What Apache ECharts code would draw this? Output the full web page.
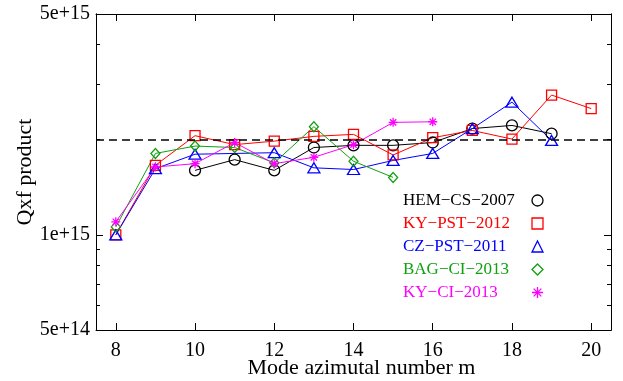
<!DOCTYPE html>
<html>
<head>
<meta charset="utf-8">
<script src="https://cdn.jsdelivr.net/npm/echarts@6/dist/echarts.min.js"></script>
<style>
  html, body { margin: 0; padding: 0; background: #fff; }
  #chart { width: 623px; height: 381px; }
</style>
</head>
<body>
<div id="chart"></div>
<script>
// azimutal mode numbers (x)
const mValues = [8, 9, 10, 11, 12, 13, 14, 15, 16, 17, 18, 19, 20];

// Qxf product per data set, null = no point
const hemCs2007 = [null, null, 1.60e15, 1.73e15, 1.60e15, 1.89e15, 1.92e15, 1.92e15, 1.96e15, 2.17e15, 2.22e15, 2.09e15, null];
const kyPst2012 = [1.00e15, 1.66e15, 2.06e15, 1.93e15, 1.98e15, 2.05e15, 2.08e15, 1.79e15, 2.03e15, 2.14e15, 2.01e15, 2.77e15, 2.51e15];
const czPst2011 = [1.00e15, 1.62e15, 1.80e15, null, 1.82e15, 1.63e15, 1.61e15, 1.72e15, 1.81e15, 2.17e15, 2.63e15, 1.99e15, null];
const bagCi2013 = [1.06e15, 1.81e15, 1.91e15, 1.89e15, 1.69e15, 2.20e15, 1.71e15, 1.52e15, null, null, null, null, null];
const kyCi2013  = [1.10e15, 1.64e15, 1.68e15, 1.96e15, 1.68e15, 1.76e15, 1.93e15, 2.27e15, 2.28e15, null, null, null, null];

// dashed reference level
const refQxf = 2e15;

// axis ticks
const xTicks = [8, 10, 12, 14, 16, 18, 20];
const yTickValues = [5e14, 1e15, 5e15];
const yTickLabels = ['5e+14', '1e+15', '5e+15'];
const yMinorTicks = [6e14, 7e14, 8e14, 9e14, 2e15, 3e15, 4e15];

const yMin = 5e14, yMax = 5e15;
const lMin = Math.log10(yMin), lMax = Math.log10(yMax);

const FONT = '"Liberation Serif", "DejaVu Serif", serif';
const asterisk = 'path://M0,5L10,5M5,0L5,10M1.5,1.5L8.5,8.5M8.5,1.5L1.5,8.5';

function pairs(vals) {
  const out = [];
  vals.forEach((v, i) => { if (v !== null) out.push([mValues[i], v]); });
  return out;
}

function makeSeries(name, vals, color, symbol, size) {
  return {
    name: name,
    type: 'line',
    xAxisIndex: 0,
    yAxisIndex: 0,
    data: pairs(vals),
    symbol: symbol,
    symbolSize: size,
    showAllSymbol: true,
    itemStyle: { color: 'rgba(0,0,0,0)', borderColor: color, borderWidth: 1.3 },
    lineStyle: { color: color, width: 1 },
    emphasis: { disabled: true },
    z: 3
  };
}

// tick-only axes laid on the log range
function tickAxis(pos, values, len, labels) {
  return {
    type: 'value',
    position: pos,
    min: lMin,
    max: lMax,
    axisLine: { show: true, lineStyle: { color: '#000', width: 1 } },
    axisTick: { show: true, inside: true, length: len, customValues: values.map(Math.log10), lineStyle: { color: '#000' } },
    axisLabel: labels ? {
      show: true,
      customValues: yTickValues.map(Math.log10),
      margin: 6,
      fontFamily: FONT,
      fontSize: 20,
      color: '#000',
      formatter: function (v) {
        for (let i = 0; i < yTickValues.length; i++) {
          if (Math.abs(Math.log10(yTickValues[i]) - v) < 1e-6) return yTickLabels[i];
        }
        return '';
      }
    } : { show: false },
    splitLine: { show: false }
  };
}

const chart = echarts.init(document.getElementById('chart'));

const series = [
  makeSeries('HEM−CS−2007', hemCs2007, '#000000', 'circle', 11),
  makeSeries('KY−PST−2012', kyPst2012, '#ff0000', 'rect', 10),
  makeSeries('CZ−PST−2011', czPst2011, '#0000ff', 'triangle', [12, 10]),
  makeSeries('BAG−CI−2013', bagCi2013, '#10a010', 'diamond', [9, 10]),
  makeSeries('KY−CI−2013', kyCi2013, '#ff00ff', asterisk, 9)
];
series[0].markLine = {
  silent: true,
  symbol: 'none',
  label: { show: false },
  lineStyle: { color: '#000', width: 1.5, type: [8, 5] },
  data: [{ yAxis: refQxf }]
};

const legendColors = ['#000000', '#ff0000', '#0000ff', '#10a010', '#ff00ff'];
const legendIcons = ['circle', 'rect', 'triangle', 'diamond', asterisk];

const option = {
  animation: false,
  backgroundColor: '#fff',
  grid: { left: 96, right: 12, top: 14, bottom: 51, outerBoundsMode: 'none', containLabel: false },
  legend: {
    orient: 'vertical',
    left: 398,
    top: 187,
    align: 'right',
    itemWidth: 11,
    itemHeight: 11,
    itemGap: 6,
    itemStyle: { borderWidth: 1.3 },
    formatter: '{t|{name}}',
    textStyle: {
      fontFamily: FONT,
      fontSize: 17,
      rich: { t: { width: 124, align: 'left', fontFamily: FONT, fontSize: 17, lineHeight: 17 } }
    },
    data: series.map((s, i) => ({ name: s.name, icon: legendIcons[i], textStyle: { color: legendColors[i] } }))
  },
  xAxis: [
    {
      type: 'value',
      position: 'bottom',
      min: 7.5,
      max: 20.5,
      name: 'Mode azimutal number m',
      nameLocation: 'middle',
      nameGap: 27,
      nameMoveOverlap: false,
      nameTextStyle: { fontFamily: FONT, fontSize: 22, color: '#000', padding: [0, 0, 0, 16] },
      axisLine: { show: true, lineStyle: { color: '#000', width: 1 } },
      axisTick: { show: true, inside: true, length: 7, customValues: xTicks, lineStyle: { color: '#000' } },
      axisLabel: { show: true, customValues: xTicks, margin: 11, fontFamily: FONT, fontSize: 20, color: '#000' },
      splitLine: { show: false }
    },
    {
      type: 'value',
      position: 'top',
      min: 7.5,
      max: 20.5,
      axisLine: { show: true, lineStyle: { color: '#000', width: 1 } },
      axisTick: { show: true, inside: true, length: 7, customValues: xTicks, lineStyle: { color: '#000' } },
      axisLabel: { show: false },
      splitLine: { show: false }
    }
  ],
  yAxis: [
    {
      type: 'log',
      logBase: 10,
      min: yMin,
      max: yMax,
      show: false,
      splitLine: { show: false }
    },
    Object.assign(tickAxis('left', yTickValues, 7, true), {
      name: 'Qxf product',
      nameLocation: 'middle',
      nameGap: 60,
      nameMoveOverlap: false,
      nameTextStyle: { fontFamily: FONT, fontSize: 22, color: '#000' }
    }),
    tickAxis('left', yMinorTicks, 4, false),
    tickAxis('right', yTickValues, 7, false),
    tickAxis('right', yMinorTicks, 4, false)
  ],
  series: series
};

chart.setOption(option);
</script>
</body>
</html>
